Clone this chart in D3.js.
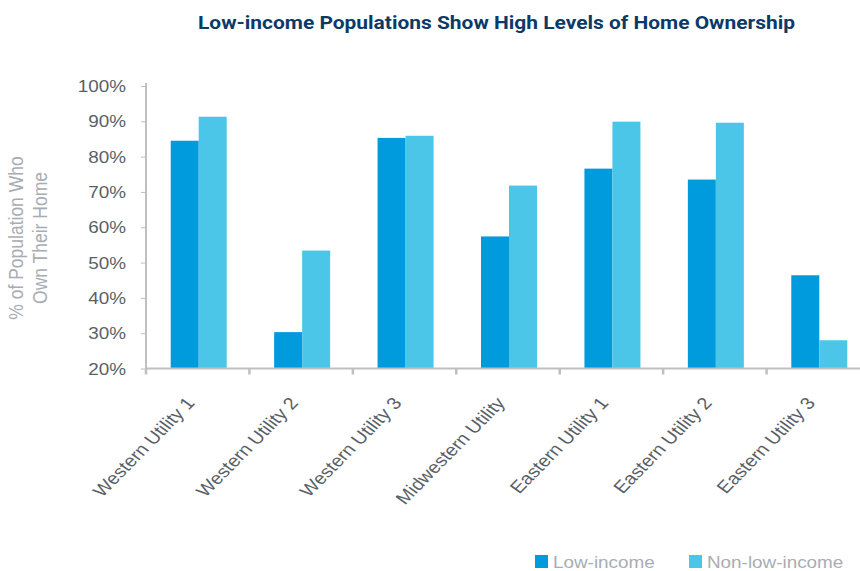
<!DOCTYPE html>
<html>
<head>
<meta charset="utf-8">
<script src="https://cdn.jsdelivr.net/npm/d3@7"></script>
<style>
  html, body { margin: 0; padding: 0; background: #ffffff; }
  svg { display: block; }
</style>
</head>
<body>
<svg id="chart" width="860" height="571"></svg>
<script>
// Home ownership by utility territory, split by income group
const categories = [
  "Western Utility 1", "Western Utility 2", "Western Utility 3",
  "Midwestern Utility", "Eastern Utility 1", "Eastern Utility 2", "Eastern Utility 3"
];
const seriesNames = ["Low-income", "Non-low-income"];
const lowIncome    = [84.5, 30.3, 85.3, 57.4, 76.6, 73.5, 46.4];
const nonLowIncome = [91.3, 53.4, 85.9, 71.8, 89.9, 89.6, 28.0];
const yTicks = [20, 30, 40, 50, 60, 70, 80, 90, 100];
const seriesColors = ["#009bdd", "#4bc6e8"];

const svg = d3.select("#chart");
const W = 860, H = 571;
const stretch = 1.18;           // text is set slightly wide
const axisColor = "#bfbfbf";
const labelColor = "#5a5f67";
const mutedColor = "#a8adb3";
const font = "'Liberation Sans', Arial, sans-serif";

const x0 = 146, x1 = 870, yTop = 86, yBottom = 368.5;

const x = d3.scaleBand().domain(categories).range([x0, x1]).paddingInner(0).paddingOuter(0);
const groupW = 56;
const xs = d3.scaleBand().domain(seriesNames).range([0, groupW]).padding(0);
const y = d3.scaleLinear().domain([20, 100]).range([yBottom, yTop]);

// Title
svg.append("text")
  .attr("x", 496.5).attr("y", 29)
  .attr("text-anchor", "middle")
  .attr("font-family", "Roboto, 'Open Sans', sans-serif")
  .attr("font-weight", 700)
  .attr("font-size", 18)
  .attr("fill", "#0b3a68")
  .attr("textLength", 597)
  .attr("lengthAdjust", "spacingAndGlyphs")
  .text("Low-income Populations Show High Levels of Home Ownership");

// Bars
const rows = categories.map((c, i) => ({ cat: c, vals: [lowIncome[i], nonLowIncome[i]] }));
const groups = svg.append("g").selectAll("g").data(rows).join("g")
  .attr("transform", d => `translate(${x(d.cat) + x.bandwidth() / 2 - groupW / 2 + 1},0)`);
groups.selectAll("rect")
  .data(d => d.vals.map((v, k) => ({ name: seriesNames[k], v, k })))
  .join("rect")
  .attr("x", d => xs(d.name))
  .attr("width", xs.bandwidth())
  .attr("y", d => y(d.v))
  .attr("height", d => y(20) - y(d.v))
  .attr("fill", d => seriesColors[d.k]);

// Y axis
const yAxis = svg.append("g")
  .attr("transform", `translate(${x0},0)`)
  .call(d3.axisLeft(y).tickValues(yTicks).tickSize(5).tickSizeOuter(0).tickFormat(d => d + "%"));
yAxis.select(".domain").attr("stroke", axisColor).attr("stroke-width", 2)
  .attr("d", `M0,${yTop - 3}V${yBottom}`);
yAxis.selectAll(".tick line").attr("stroke", axisColor).attr("stroke-width", 1);
yAxis.selectAll(".tick text")
  .attr("x", null).attr("dy", "0.35em")
  .attr("transform", `translate(-20,0) scale(${stretch},1)`)
  .attr("font-family", font).attr("font-size", 16)
  .attr("fill", labelColor).attr("text-anchor", "end");

// X axis with ticks between categories
const xAxis = svg.append("g").attr("transform", `translate(0,${yBottom})`);
xAxis.append("line")
  .attr("x1", x0 - 1).attr("x2", W).attr("y1", 0).attr("y2", 0)
  .attr("stroke", axisColor).attr("stroke-width", 2);
xAxis.selectAll("line.tick").data(categories).join("line")
  .attr("class", "tick")
  .attr("x1", d => x(d) + x.bandwidth()).attr("x2", d => x(d) + x.bandwidth())
  .attr("y1", 0).attr("y2", 6)
  .attr("stroke", axisColor).attr("stroke-width", 2.5);
xAxis.append("line")
  .attr("x1", x0).attr("x2", x0).attr("y1", 0).attr("y2", 6)
  .attr("stroke", axisColor).attr("stroke-width", 2.5);

// Category labels, rotated
xAxis.selectAll("g.lab").data(categories).join("g")
  .attr("class", "lab")
  .attr("transform", d => `translate(${x(d) + x.bandwidth() / 2 - 2},${35})`)
  .append("text")
  .attr("transform", `scale(${stretch},1) rotate(-50)`)
  .attr("text-anchor", "end")
  .attr("font-family", font).attr("font-size", 17)
  .attr("fill", labelColor)
  .text(d => d);

// Y axis title
const yTitle = svg.append("g").attr("transform", `translate(0,238)`);
[["% of Population Who", 23], ["Own Their Home", 47]].forEach(([t, bx]) => {
  yTitle.append("text")
    .attr("transform", `translate(${bx},0) scale(${stretch},1) rotate(-90)`)
    .attr("text-anchor", "middle")
    .attr("font-family", font).attr("font-size", 17.5)
    .attr("fill", mutedColor)
    .text(t);
});

// Legend
const legendX = [535, 689];
const legend = svg.append("g").selectAll("g").data(seriesNames).join("g")
  .attr("transform", (d, i) => `translate(${legendX[i]},555)`);
legend.append("rect").attr("width", 13).attr("height", 13).attr("fill", (d, i) => seriesColors[i]);
legend.append("text")
  .attr("transform", `translate(18,12.5) scale(${stretch},1)`)
  .attr("font-family", font).attr("font-size", 16)
  .attr("fill", mutedColor)
  .text(d => d);
</script>
</body>
</html>
